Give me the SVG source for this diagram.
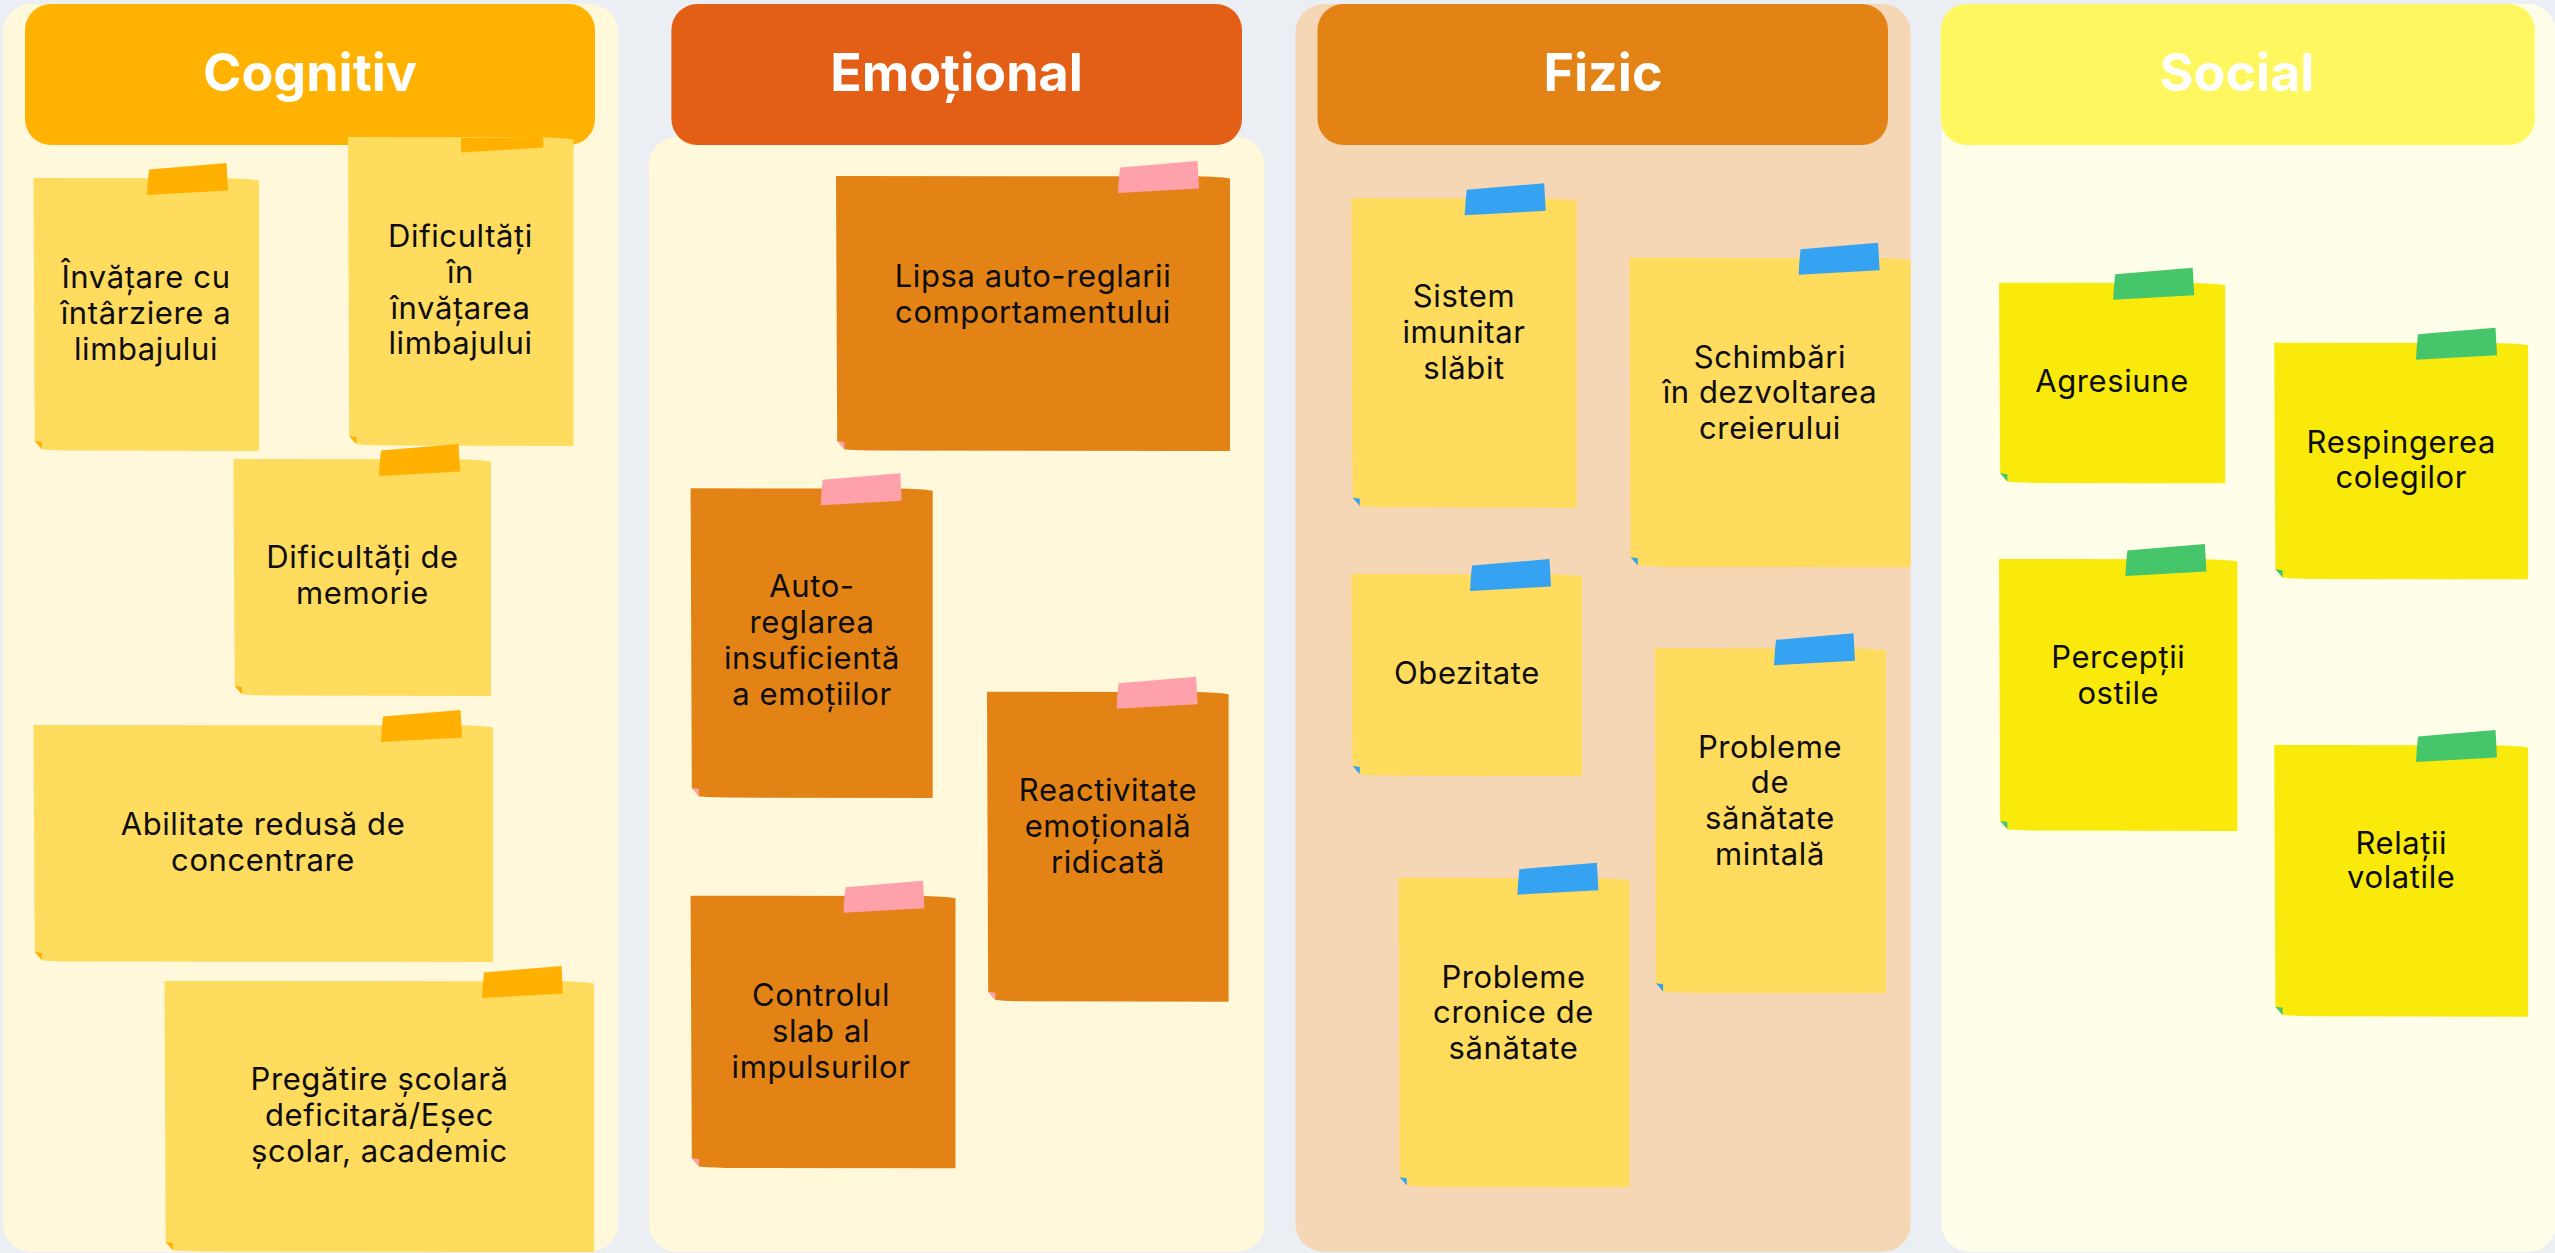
<svg xmlns="http://www.w3.org/2000/svg" xmlns:xlink="http://www.w3.org/1999/xlink" width="2555" height="1253" viewBox="0 0 2555 1253">
<style>
.title{font-family:Inter,"Liberation Sans",sans-serif;font-weight:700;font-size:52px;fill:#ffffff;text-anchor:middle}
.lbl{font-family:Inter,"Liberation Sans",sans-serif;font-size:31px;letter-spacing:0.6px;fill:#0d0d0d;text-anchor:middle}
.panelC{fill:#FFF8DB}
.panelF{fill:#F6D7B5}
.panelS{fill:#FFFEE9}
.nY{fill:#FFDB5E}
.nO{fill:#E38315}
.nS{fill:#F9EA0B}
.tA{fill:#FFB000}
.tP{fill:#FFA1AA}
.tB{fill:#36A3F2}
.tG{fill:#45C66A}
</style>
<defs>
<path id="tape" d="M-110,-8.5 L-32.5,-15 L-31,12.5 L-112,17 Q-111.5,4 -110,-8.5 Z"/>
<path id="fold" d="M1.2,-10 L8.4,-9 L8.4,-1.7 Z"/>
</defs>
<rect x="0" y="0" width="2555" height="1253" fill="#EBEFF3"/>

<g id="panels">
<rect class="panelC" x="3" y="4" width="615" height="1248" rx="28"/>
<rect class="panelC" x="649" y="137" width="615.5" height="1115" rx="28"/>
<rect class="panelF" x="1295.5" y="4" width="615" height="1248" rx="28"/>
<rect class="panelS" x="1941.5" y="4" width="614.5" height="1248" rx="28"/>
</g>

<g id="header-cognitiv">
<rect x="25" y="4" width="570" height="141" rx="26" fill="#FFB202"/>
<text class="title" x="310" y="91">Cognitiv</text>
</g>
<g id="header-emotional">
<rect x="671.4" y="4" width="570.6" height="141" rx="26" fill="#E35F16"/>
<text class="title" x="956.5" y="91">Emoțional</text>
</g>
<g id="header-fizic">
<rect x="1317.5" y="4" width="570.5" height="141" rx="26" fill="#E38315"/>
<text class="title" x="1603" y="91">Fizic</text>
</g>
<g id="header-social">
<rect x="1940.7" y="4" width="594" height="141" rx="26" fill="#FFF75F"/>
<text class="title" x="2237" y="91">Social</text>
</g>

<g id="note-c1">
<path class="nY" d="M33.5,178 L224,178.3 Q247,178.6 259,180.5 L259,451 L68.5,450.6 Q48.5,450.1 41.9,449.3 L34.7,441 Q34.1,314.5 33.5,178 Z"/>
<use href="#tape" x="259" y="178" class="tA"/><use href="#fold" x="33.5" y="451" class="tA"/>
<text class="lbl" x="146" y="288">Învățare cu</text><text class="lbl" x="146" y="324">întârziere a</text><text class="lbl" x="146" y="360">limbajului</text>
</g>
<g id="note-c2">
<path class="nY" d="M348,137 L538.5,137.3 Q561.5,137.6 573.5,139.5 L573.5,446 L383,445.6 Q363,445.1 356.4,444.3 L349.2,436 Q348.6,291.5 348,137 Z"/>
<path class="tA" d="M461,138 L543,137 L543.5,147.5 L461,152.5 Z"/><use href="#fold" x="348" y="446" class="tA"/>
<text class="lbl" x="460.5" y="247">Dificultăți</text><text class="lbl" x="460.5" y="283">în</text><text class="lbl" x="460.5" y="318.5">învățarea</text><text class="lbl" x="460.5" y="354">limbajului</text>
</g>
<g id="note-c3">
<path class="nY" d="M233.5,459 L456,459.3 Q479,459.6 491,461.5 L491,696 L268.5,695.6 Q248.5,695.1 241.9,694.3 L234.7,686 Q234.1,577.5 233.5,459 Z"/>
<use href="#tape" x="491" y="459" class="tA"/><use href="#fold" x="233.5" y="696" class="tA"/>
<text class="lbl" x="362.5" y="568">Dificultăți de</text><text class="lbl" x="362.5" y="604">memorie</text>
</g>
<g id="note-c4">
<path class="nY" d="M33.5,725 L458,725.3 Q481,725.6 493,727.5 L493,962 L68.5,961.6 Q48.5,961.1 41.9,960.3 L34.7,952 Q34.1,843.5 33.5,725 Z"/>
<use href="#tape" x="493" y="725" class="tA"/><use href="#fold" x="33.5" y="962" class="tA"/>
<text class="lbl" x="263" y="835">Abilitate redusă de</text><text class="lbl" x="263" y="871">concentrare</text>
</g>
<g id="note-c5">
<path class="nY" d="M164.5,981 L559,981.3 Q582,981.6 594,983.5 L594,1252 L199.5,1251.6 Q179.5,1251.1 172.9,1250.3 L165.7,1242 Q165.1,1116.5 164.5,981 Z"/>
<use href="#tape" x="594" y="981" class="tA"/><use href="#fold" x="164.5" y="1252" class="tA"/>
<text class="lbl" x="379.5" y="1090">Pregătire școlară</text><text class="lbl" x="379.5" y="1126">deficitară/Eșec</text><text class="lbl" x="379.5" y="1162">școlar, academic</text>
</g>

<g id="note-e1">
<path class="nO" d="M836,176 L1195,176.3 Q1218,176.6 1230,178.5 L1230,451 L871,450.6 Q851,450.1 844.4,449.3 L837.2,441 Q836.6,313.5 836,176 Z"/>
<use href="#tape" x="1230" y="176" class="tP"/><use href="#fold" x="836" y="451" class="tP"/>
<text class="lbl" x="1033" y="286.7">Lipsa auto-reglarii</text><text class="lbl" x="1033" y="322.7">comportamentului</text>
</g>
<g id="note-e2">
<path class="nO" d="M690.6,488.3 L897.7,488.6 Q920.7,488.9 932.7,490.8 L932.7,798 L725.6,797.6 Q705.6,797.1 699,796.3 L691.8,788 Q691.2,643.2 690.6,488.3 Z"/>
<use href="#tape" x="932.7" y="488.3" class="tP"/><use href="#fold" x="690.6" y="798" class="tP"/>
<text class="lbl" x="812" y="597">Auto-</text><text class="lbl" x="812" y="633">reglarea</text><text class="lbl" x="812" y="669">insuficientă</text><text class="lbl" x="812" y="705">a emoțiilor</text>
</g>
<g id="note-e3">
<path class="nO" d="M987,691.7 L1193.6,692 Q1216.6,692.3 1228.6,694.2 L1228.6,1001.7 L1022,1001.3 Q1002,1000.8 995.4,1000 L988.2,991.7 Q987.6,846.7 987,691.7 Z"/>
<use href="#tape" x="1228.6" y="691.7" class="tP"/><use href="#fold" x="987" y="1001.7" class="tP"/>
<text class="lbl" x="1108" y="801">Reactivitate</text><text class="lbl" x="1108" y="837">emoțională</text><text class="lbl" x="1108" y="873">ridicată</text>
</g>
<g id="note-e4">
<path class="nO" d="M690.6,895.7 L920.5,896 Q943.5,896.3 955.5,898.2 L955.5,1168.3 L725.6,1167.9 Q705.6,1167.4 699,1166.6 L691.8,1158.3 Q691.2,1032 690.6,895.7 Z"/>
<use href="#tape" x="955.5" y="895.7" class="tP"/><use href="#fold" x="690.6" y="1168.3" class="tP"/>
<text class="lbl" x="821" y="1005.7">Controlul</text><text class="lbl" x="821" y="1041.7">slab al</text><text class="lbl" x="821" y="1077.7">impulsurilor</text>
</g>

<g id="note-f1">
<path class="nY" d="M1351.4,198.3 L1541.7,198.6 Q1564.7,198.9 1576.7,200.8 L1576.7,507.7 L1386.4,507.3 Q1366.4,506.8 1359.8,506 L1352.6,497.7 Q1352,353 1351.4,198.3 Z"/>
<use href="#tape" x="1576.7" y="198.3" class="tB"/><use href="#fold" x="1351.4" y="507.7" class="tB"/>
<text class="lbl" x="1464" y="307.3">Sistem</text><text class="lbl" x="1464" y="343.3">imunitar</text><text class="lbl" x="1464" y="379.3">slăbit</text>
</g>
<g id="note-f2">
<path class="nY" d="M1629.4,257.7 L1875.6,258 Q1898.6,258.3 1910.6,260.2 L1910.6,567.3 L1664.4,566.9 Q1644.4,566.4 1637.8,565.6 L1630.6,557.3 Q1630,412.5 1629.4,257.7 Z"/>
<use href="#tape" x="1910.6" y="257.7" class="tB"/><use href="#fold" x="1629.4" y="567.3" class="tB"/>
<text class="lbl" x="1770" y="367.7">Schimbări</text><text class="lbl" x="1770" y="403.3">în dezvoltarea</text><text class="lbl" x="1770" y="439.3">creierului</text>
</g>
<g id="note-f3">
<path class="nY" d="M1351.4,574 L1547,574.3 Q1570,574.6 1582,576.5 L1582,776 L1386.4,775.6 Q1366.4,775.1 1359.8,774.3 L1352.6,766 Q1352,675 1351.4,574 Z"/>
<use href="#tape" x="1582" y="574" class="tB"/><use href="#fold" x="1351.4" y="776" class="tB"/>
<text class="lbl" x="1467" y="684">Obezitate</text>
</g>
<g id="note-f4">
<path class="nY" d="M1654.7,648.3 L1851,648.6 Q1874,648.9 1886,650.8 L1886,993.3 L1689.7,992.9 Q1669.7,992.4 1663.1,991.6 L1655.9,983.3 Q1655.3,820.8 1654.7,648.3 Z"/>
<use href="#tape" x="1886" y="648.3" class="tB"/><use href="#fold" x="1654.7" y="993.3" class="tB"/>
<text class="lbl" x="1770" y="757.7">Probleme</text><text class="lbl" x="1770" y="793.3">de</text><text class="lbl" x="1770" y="829.3">sănătate</text><text class="lbl" x="1770" y="865">mintală</text>
</g>
<g id="note-f5">
<path class="nY" d="M1398.4,877.7 L1594.4,878 Q1617.4,878.3 1629.4,880.2 L1629.4,1187.3 L1433.4,1186.9 Q1413.4,1186.4 1406.8,1185.6 L1399.6,1177.3 Q1399,1032.5 1398.4,877.7 Z"/>
<use href="#tape" x="1629.4" y="877.7" class="tB"/><use href="#fold" x="1398.4" y="1187.3" class="tB"/>
<text class="lbl" x="1513.5" y="987.7">Probleme</text><text class="lbl" x="1513.5" y="1023.3">cronice de</text><text class="lbl" x="1513.5" y="1059.3">sănătate</text>
</g>

<g id="note-s1">
<path class="nS" d="M1999,282.7 L2190.2,283 Q2213.2,283.3 2225.2,285.2 L2225.2,483.3 L2034,482.9 Q2014,482.4 2007.4,481.6 L2000.2,473.3 Q1999.6,383 1999,282.7 Z"/>
<use href="#tape" x="2225.2" y="282.7" class="tG"/><use href="#fold" x="1999" y="483.3" class="tG"/>
<text class="lbl" x="2112" y="391.7">Agresiune</text>
</g>
<g id="note-s2">
<path class="nS" d="M2274.2,342.7 L2493,343 Q2516,343.3 2528,345.2 L2528,579.3 L2309.2,578.9 Q2289.2,578.4 2282.6,577.6 L2275.4,569.3 Q2274.8,461 2274.2,342.7 Z"/>
<use href="#tape" x="2528" y="342.7" class="tG"/><use href="#fold" x="2274.2" y="579.3" class="tG"/>
<text class="lbl" x="2401.3" y="452.7">Respingerea</text><text class="lbl" x="2401.3" y="488.3">colegilor</text>
</g>
<g id="note-s3">
<path class="nS" d="M1999,559 L2202.4,559.3 Q2225.4,559.6 2237.4,561.5 L2237.4,831 L2034,830.6 Q2014,830.1 2007.4,829.3 L2000.2,821 Q1999.6,695 1999,559 Z"/>
<use href="#tape" x="2237.4" y="559" class="tG"/><use href="#fold" x="1999" y="831" class="tG"/>
<text class="lbl" x="2118.3" y="668.3">Percepții</text><text class="lbl" x="2118.3" y="704">ostile</text>
</g>
<g id="note-s4">
<path class="nS" d="M2274.2,745 L2493,745.3 Q2516,745.6 2528,747.5 L2528,1016.7 L2309.2,1016.3 Q2289.2,1015.8 2282.6,1015 L2275.4,1006.7 Q2274.8,880.8 2274.2,745 Z"/>
<use href="#tape" x="2528" y="745" class="tG"/><use href="#fold" x="2274.2" y="1016.7" class="tG"/>
<text class="lbl" x="2401.3" y="854">Relații</text><text class="lbl" x="2401.3" y="888.3">volatile</text>
</g>
</svg>
